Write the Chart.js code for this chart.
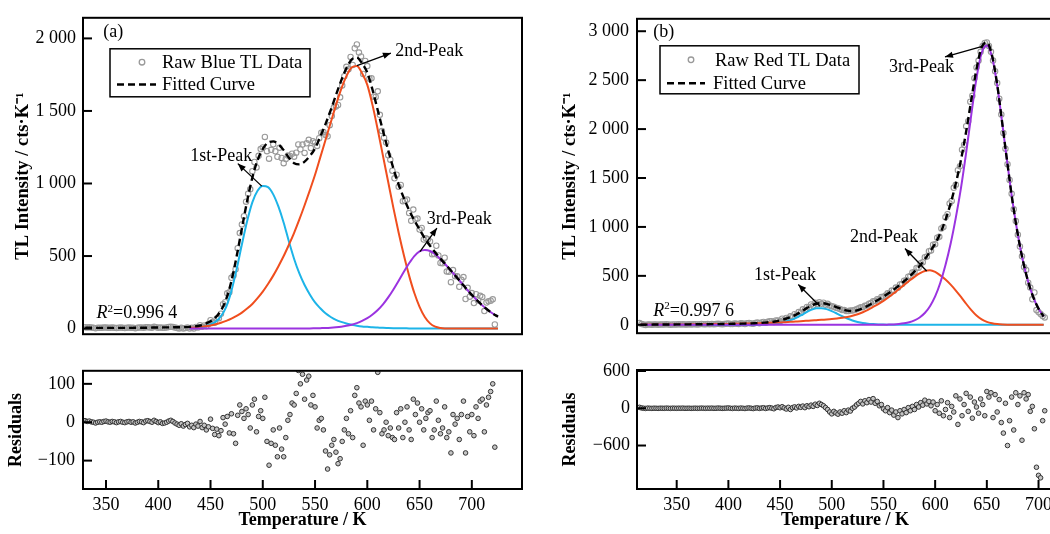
<!DOCTYPE html>
<html>
<head>
<meta charset="utf-8">
<script src="https://cdn.jsdelivr.net/npm/chart.js@4.4.1/dist/chart.umd.min.js"></script>
<style>
  html, body { margin: 0; padding: 0; background: #fff; }
  #page { position: relative; width: 1050px; height: 534px; overflow: hidden; background: #fff; }
  .cell { position: absolute; }
</style>
</head>
<body>
<div id="page">
  <div class="cell" style="left:0;top:0;width:530px;height:352px"><canvas id="mainBlue"></canvas></div>
  <div class="cell" style="left:0;top:352px;width:530px;height:182px"><canvas id="residBlueChart"></canvas></div>
  <div class="cell" style="left:530px;top:0;width:530px;height:352px"><canvas id="mainRed"></canvas></div>
  <div class="cell" style="left:530px;top:352px;width:530px;height:182px"><canvas id="residRedChart"></canvas></div>
</div>
<script>
// ---- data: panel (a), blue TL ----
// raw data and residuals sampled every 2 K from 330 K
const rawBlue = [
  10,8,9,7,6,3,5,6,5,7, 8,6,5,7,6,4,6,7,5,4, 6,7,5,6,3,6,8,7,5,9,
  10,8,6,12,9,6,8,5,6,8, 11,13,11,7,4,1,5,0,4,8, 0,5,0,11,8,23,12,22,16,31,
  58,45,40,69,71,103,168,182,243,250, 350,366,409,554,658,718,775,875,930,960,
  1085,1148,1111,1191,1237,1248,1321,1223,1171,1232, 1270,1222,1184,1247,1176,1140,1169,1193,1190,1205,
  1185,1212,1269,1236,1268,1211,1277,1301,1244,1291, 1282,1259,1312,1350,1355,1334,1325,1402,1466,1523,
  1531,1541,1594,1676,1740,1804,1788,1872,1817,1932, 1958,1902,1876,1755,1845,1809,1722,1725,1598,1596,
  1635,1473,1361,1316,1282,1194,1164,1088,1036,1061, 977,990,878,882,889,796,743,820,753,758,
  683,694,614,622,616,601,512,514,571,504, 452,450,489,393,391,320,403,361,360,288,
  336,355,204,281,220,245,176,237,194,226, 218,121,179,188,192,202,28
];
const residBlue = [
  4,2,3,1,0,-2,0,1,0,2, 3,1,0,2,1,-1,1,2,0,-1, 1,2,0,1,-2,0,2,1,-1,3,
  4,2,0,5,2,-1,1,-3,-2,0, 3,5,2,-2,-5,-8,-4,-10,-6,-3, -12,-8,-14,-5,-10,2,-14,-8,-20,-12,
  8,-16,-32,-18,-35,-22,12,-5,15,-28, 22,-30,-55,18,45,28,10,35,20,-15,
  45,60,-25,15,30,10,65,-50,-112,-55, -20,-60,-90,-15,-70,-90,-40,5,20,50,
  45,75,135,100,125,60,110,120,45,70, 40,-15,5,10,-20,-75,-122,-85,-60,-45,
  -78,-108,-95,-50,-20,10,-30,30,-40,70, 90,50,40,-60,55,45,5,55,-20,35,
  130,25,-30,-20,0,-35,-15,-40,-45,25, -15,35,-40,0,40,-20,-45,60,20,50,
  0,35,-20,10,25,30,-40,-20,55,5, -30,-15,40,-40,-25,-80,20,-5,10,-45,
  20,55,-80,15,-25,20,-35,40,10,55, 60,-25,45,65,80,100,-65
];
// fitted curve every 5 K from 330 K
const fitBlue = [
  6,6,5,5,5,5,5,5,5,5, 6,6,6,7,7,8,8,9,9,10,
  12,15,21,33,50,78,125,203,328,498, 690,878,1040,1160,1238,1282,1290,1270,1230,1178,
  1140,1132,1151,1189,1242,1323,1409,1506,1609,1709, 1794,1854,1868,1828,1764,1646,1505,1362,1229,1103,
  992,899,816,746,683,622,571,525,482,441, 400,358,316,272,232,195,160,130,104,82
];
// fitted peaks every 5 K from 430 K
const peak1Blue = [
  3,5,9,16,28,48,85,150,260,410, 580,740,870,950,983,975,925,840,730,600,
  480,380,300,235,180,140,105,80,60,46, 35,27,20,15,12,9,7,5,4,3,
  2,2,1,1,1,0,0,0,0,0, 0,0,0,0,0,0,0,0,0,0
];
const peak2Blue = [
  5,8,12,17,22,30,40,53,68,88, 110,138,170,210,255,307,365,430,500,578,
  660,752,850,953,1060,1180,1300,1420,1540,1650, 1740,1800,1810,1760,1680,1540,1370,1190,1010,830,
  660,505,365,245,150,80,36,13,4,1, 0,0,0,0,0,0,0,0,0,0
];
const peak3Blue = [
  0,0,0,0,0,0,0,0,0,0, 0,0,0,0,0,0,0,0,0,0,
  0,0,1,1,2,3,4,6,9,13, 19,27,38,53,72,97,128,167,215,270,
  330,392,450,500,532,542,535,512,478,440, 400,358,316,272,232,195,160,130,104,82
];

// ---- data: panel (b), red TL ----
// raw data and residuals sampled every 2 K from 314 K
const rawRed = [
  17,7,2,-1,4,2,0,4,3,1, 4,3,2,5,3,1,4,3,3,5, 4,6,3,4,5,3,5,6,4,5,
  8,6,5,7,6,8,6,7,10,8, 5,8,11,14,9,7,12,11,9,15, 12,8,15,18,14,10,19,23,16,24,
  29,20,30,37,36,28,45,44,38,62, 52,70,62,86,80,108,100,130,124,158,
  152,182,178,208,196,224,212,230,214,226, 206,214,196,190,184,175,168,162,150,150,
  140,140,145,146,152,160,168,178,180,194, 198,216,222,240,242,262,262,284,286,298,
  322,320,350,348,380,378,412,418,450,455, 492,498,535,540,580,584,630,640,690,698,
  752,760,818,822,890,900,985,1000,1100,1130, 1240,1265,1400,1430,1580,1620,1790,1840,2030,2080,
  2280,2340,2520,2630,2700,2790,2850,2880,2885,2850, 2790,2700,2590,2470,2310,2150,1960,1800,1640,1480,
  1340,1180,1060,920,800,700,590,560,430,380, 260,330,150,130,110,90,75
];
const residRed = [
  15,5,0,-3,2,0,-2,1,0,-2, 1,0,-1,2,0,-2,1,0,-1,1, 0,2,-1,0,1,-2,0,1,-1,0,
  2,0,-1,1,0,2,-1,0,3,1, -2,0,2,5,0,-3,2,0,-2,3, 0,-4,2,5,0,-5,3,6,-2,4,
  8,-3,5,10,2,-8,12,20,8,25, 5,-12,15,-20,10,22,5,30,15,35,
  10,40,25,50,30,65,45,80,60,40, 10,-20,-60,-90,-50,-75,-95,-60,-80,-40,
  -70,-30,-45,0,20,55,80,110,70,120, 90,140,100,155,80,110,40,60,-10,-40,
  10,-70,-30,-110,-60,-150,-40,-90,-20,-70, 10,-40,30,-20,60,20,90,50,130,70,
  110,40,100,-40,60,-80,120,-120,-20,90, -150,30,-60,200,-260,150,-120,60,240,-50,
  180,-160,100,20,-80,150,60,-120,270,180, 250,-150,220,-60,140,-230,-400,80,-600,-200,
  180,-350,250,60,200,-515,250,150,220,-50, 30,-330,-950,-1080,-1120,-200,-40
];
// fitted curve and peaks every 5 K from 315 K
const fitRed = [
  2,2,2,3,3,3,3,4,4,4, 5,5,6,6,7,7,8,9,10,11,
  12,13,16,18,22,27,34,44,59,78, 101,131,165,195,215,221,214,198,179,160,
  144,140,150,170,195,225,255,288,322,360, 400,445,492,545,600,670,747,830,935,1072,
  1240,1445,1685,1975,2300,2615,2835,2885,2755,2457, 2053,1641,1250,920,650,440,280,165,85
];
const peak1Red = [
  0,0,0,0,0,0,0,0,0,0, 0,0,0,0,0,0,0,0,0,0,
  0,0,1,2,4,7,12,20,32,48, 68,95,125,152,168,170,160,140,115,88,
  64,44,29,18,11,7,4,2,1,0, 0,0,0,0,0,0,0,0,0,0,
  0,0,0,0,0,0,0,0,0,0, 0,0,0,0,0,0,0,0,0
];
const peak2Red = [
  2,2,2,3,3,3,3,4,4,4, 5,5,6,6,7,7,8,9,10,11,
  12,13,15,16,18,20,22,24,27,30, 33,36,40,43,47,51,54,58,64,72,
  80,92,108,128,153,182,212,245,282,322, 365,408,450,490,525,550,557,540,505,462,
  410,350,285,215,150,95,55,30,15,7, 3,1,0,0,0,0,0,0,0
];
const peak3Red = [
  0,0,0,0,0,0,0,0,0,0, 0,0,0,0,0,0,0,0,0,0,
  0,0,0,0,0,0,0,0,0,0, 0,0,0,0,0,0,0,0,0,0,
  0,0,0,0,0,0,0,0,2,4, 8,15,26,45,75,120,190,290,430,610,
  830,1095,1400,1760,2150,2520,2780,2855,2740,2450, 2050,1640,1250,920,650,440,280,165,85
];

// ---- ticks ----
const tempTicks = [350, 400, 450, 500, 550, 600, 650, 700];
const tempTickLabels = ['350', '400', '450', '500', '550', '600', '650', '700'];
const blueTicks = [0, 500, 1000, 1500, 2000];
const blueTickLabels = ['0', '500', '1 000', '1 500', '2 000'];
const redTicks = [0, 500, 1000, 1500, 2000, 2500, 3000];
const redTickLabels = ['0', '500', '1 000', '1 500', '2 000', '2 500', '3 000'];
const residBlueTicks = [-100, 0, 100];
const residBlueTickLabels = ['\u2212100', '0', '100'];
const residRedTicks = [-600, 0, 600];
const residRedTickLabels = ['\u2212600', '0', '600'];

const FONT = "'Liberation Serif', 'Times New Roman', serif";
const CYAN = '#1db4e8';
const ORANGE = '#f04e1e';
const PURPLE = '#9b33e0';

Chart.defaults.font.family = FONT;
Chart.defaults.color = '#000';

function pts(start, step, vals) {
  return vals.map((v, i) => ({ x: start + i * step, y: v }));
}

// annotations (data coordinates) and legend boxes (px from plot corner)
const notesBlue = {
  texts: [
    { x: 347.4, y: 2044, text: '(a)' },
    { x: 430.6, y: 1191, text: '1st-Peak' },
    { x: 626.7, y: 1908, text: '2nd-Peak' },
    { x: 656.9, y: 752, text: '3rd-Peak' }
  ],
  arrows: [[499, 982, 476.1, 1137], [590.1, 1813, 622.6, 1899], [650.4, 531, 666.6, 693]],
  r2: { x: 341, y: 103, text: '=0.996 4' },
  legend: { dx: 27, dy: 31, w: 200, h: 48, mx: 32, tx1: 52, d1: 7, d2: 46, tx2: 52, row1: 13.4, row2: 35.7,
            label1: 'Raw Blue TL Data', label2: 'Fitted Curve' }
};
const notesRed = {
  texts: [
    { x: 327.4, y: 2990, text: '(b)' },
    { x: 555.3, y: 2636, text: '3rd-Peak' },
    { x: 517.6, y: 890, text: '2nd-Peak' },
    { x: 424.8, y: 509, text: '1st-Peak' }
  ],
  arrows: [[646.5, 2848, 609.5, 2737], [591.8, 549, 570.8, 780], [488.6, 190, 467.6, 412]],
  r2: { x: 327.4, y: 136, text: '=0.997 6' },
  legend: { dx: 23, dy: 27, w: 199, h: 48, mx: 31, tx1: 55, d1: 7, d2: 45, tx2: 53, row1: 14, row2: 37.4,
            label1: 'Raw Red TL Data', label2: 'Fitted Curve' }
};

function arrow(ctx, x1, y1, x2, y2) {
  ctx.lineWidth = 1.3;
  ctx.beginPath(); ctx.moveTo(x1, y1); ctx.lineTo(x2, y2); ctx.stroke();
  const ang = Math.atan2(y2 - y1, x2 - x1), L = 8, W = 3.2;
  const bx = x2 - L * Math.cos(ang), by = y2 - L * Math.sin(ang);
  ctx.beginPath();
  ctx.moveTo(x2, y2);
  ctx.lineTo(bx + W * Math.sin(ang), by - W * Math.cos(ang));
  ctx.lineTo(bx - W * Math.sin(ang), by + W * Math.cos(ang));
  ctx.closePath(); ctx.fill();
}

// box around the plot and inward tick marks
const framePlugin = {
  id: 'frame',
  afterDatasetsDraw(chart, args, opts) {
    const { ctx, chartArea: a, scales } = chart;
    ctx.save();
    ctx.strokeStyle = '#000';
    ctx.lineWidth = 2;
    ctx.strokeRect(a.left, a.top, a.right - a.left, a.bottom - a.top);
    scales.y.ticks.forEach(t => {
      const py = scales.y.getPixelForValue(t.value);
      ctx.beginPath(); ctx.moveTo(a.left, py); ctx.lineTo(a.left + 9, py); ctx.stroke();
    });
    if (opts.xTicks) {
      scales.x.ticks.forEach(t => {
        const px = scales.x.getPixelForValue(t.value);
        ctx.beginPath(); ctx.moveTo(px, a.bottom); ctx.lineTo(px, a.bottom - 9); ctx.stroke();
      });
    }
    ctx.restore();
  }
};

const notesPlugin = {
  id: 'notes',
  afterDraw(chart, args, o) {
    if (!o || !o.texts) return;
    const { ctx, chartArea: a, scales: { x, y } } = chart;
    ctx.save();
    ctx.fillStyle = '#000';
    ctx.strokeStyle = '#000';
    ctx.textBaseline = 'middle';
    ctx.textAlign = 'left';
    ctx.font = '18px ' + FONT;
    o.texts.forEach(t => ctx.fillText(t.text, x.getPixelForValue(t.x), y.getPixelForValue(t.y)));
    o.arrows.forEach(r => arrow(ctx, x.getPixelForValue(r[0]), y.getPixelForValue(r[1]),
                                x.getPixelForValue(r[2]), y.getPixelForValue(r[3])));
    // R^2 label
    let px = x.getPixelForValue(o.r2.x);
    const py = y.getPixelForValue(o.r2.y);
    ctx.font = 'italic 18px ' + FONT;
    ctx.fillText('R', px, py);
    px += ctx.measureText('R').width;
    ctx.font = '11px ' + FONT;
    ctx.fillText('2', px, py - 5);
    px += ctx.measureText('2').width;
    ctx.font = '18px ' + FONT;
    ctx.fillText(o.r2.text, px, py);
    // legend
    const L = o.legend;
    const lx = a.left + L.dx, ly = a.top + L.dy;
    ctx.lineWidth = 1.5;
    ctx.strokeRect(lx, ly, L.w, L.h);
    ctx.font = '18.5px ' + FONT;
    ctx.strokeStyle = '#999';
    ctx.lineWidth = 1.3;
    ctx.beginPath(); ctx.arc(lx + L.mx, ly + L.row1, 2.8, 0, Math.PI * 2); ctx.stroke();
    ctx.fillText(L.label1, lx + L.tx1, ly + L.row1 + 1);
    ctx.strokeStyle = '#000';
    ctx.lineWidth = 2.4;
    ctx.setLineDash([7, 4]);
    ctx.beginPath(); ctx.moveTo(lx + L.d1, ly + L.row2); ctx.lineTo(lx + L.d2, ly + L.row2); ctx.stroke();
    ctx.setLineDash([]);
    ctx.fillText(L.label2, lx + L.tx2, ly + L.row2 + 1);
    ctx.restore();
  }
};

function curve(data, color, width, dash, order) {
  return { data, showLine: true, borderColor: color, borderWidth: width, borderDash: dash,
           pointRadius: 0, cubicInterpolationMode: 'monotone', order };
}

function yScale(min, max, ticks, labels, width, title, titlePad, tickPad) {
  return {
    type: 'linear', min, max,
    afterBuildTicks: s => { s.ticks = ticks.map(v => ({ value: v })); },
    afterFit: s => { s.width = width; },
    grid: { display: false, drawTicks: false },
    border: { display: false },
    ticks: { font: { size: 18 }, color: '#000', padding: tickPad,
             callback: v => labels[ticks.indexOf(v)] },
    title: { display: true, text: title, color: '#000',
             font: { size: title === 'Residuals' ? 18 : 18.5, weight: 'bold' },
             padding: { top: titlePad, bottom: 0 } }
  };
}

function mainChart(id, c) {
  return new Chart(document.getElementById(id), {
    type: 'scatter',
    data: {
      datasets: [
        curve(pts(c.fitStart, 5, c.fit), '#000', 2.4, [7, 4], 0),
        curve(pts(c.peakStart, 5, c.p3), PURPLE, 2, [], 1),
        curve(pts(c.peakStart, 5, c.p2), ORANGE, 2, [], 2),
        curve(pts(c.peakStart, 5, c.p1), CYAN, 2, [], 3),
        { data: pts(c.rawStart, 2, c.raw), pointRadius: 2.7, borderWidth: 1.1,
          borderColor: '#9a9a9a', backgroundColor: 'rgba(255,255,255,0)', order: 4 }
      ]
    },
    options: {
      responsive: true, maintainAspectRatio: false, animation: false,
      layout: { padding: c.padding },
      scales: {
        x: { type: 'linear', min: c.xMin, max: c.xMax, display: false },
        y: yScale(c.yMin, c.yMax, c.ticks, c.labels, c.yWidth,
                  'TL Intensity / cts\u00b7K\u207b\u00b9', c.titlePad, c.tickPad)
      },
      plugins: { legend: { display: false }, tooltip: { enabled: false },
                 frame: { xTicks: false }, notes: c.notes }
    },
    plugins: [framePlugin, notesPlugin]
  });
}

function residChart(id, c) {
  return new Chart(document.getElementById(id), {
    type: 'scatter',
    data: {
      datasets: [
        { data: pts(c.start, 2, c.resid), pointRadius: 2.3, borderWidth: 1,
          borderColor: '#333', backgroundColor: '#c4c4c4' }
      ]
    },
    options: {
      responsive: true, maintainAspectRatio: false, animation: false,
      layout: { padding: c.padding },
      scales: {
        x: {
          type: 'linear', min: c.xMin, max: c.xMax,
          afterBuildTicks: s => { s.ticks = tempTicks.map(v => ({ value: v })); },
          afterFit: s => { s.height = 45; },
          grid: { display: false, drawTicks: false },
          border: { display: false },
          ticks: { font: { size: 18 }, color: '#000', padding: 5, maxRotation: 0, autoSkip: false,
                   callback: v => tempTickLabels[tempTicks.indexOf(v)] },
          title: { display: true, text: 'Temperature / K', color: '#000',
                   font: { size: 18, weight: 'bold' }, padding: { top: 0, bottom: 3 } }
        },
        y: yScale(c.yMin, c.yMax, c.ticks, c.labels, c.yWidth, 'Residuals', c.titlePad, c.tickPad)
      },
      plugins: { legend: { display: false }, tooltip: { enabled: false }, frame: { xTicks: true } }
    },
    plugins: [framePlugin]
  });
}

mainChart('mainBlue', {
  fit: fitBlue, fitStart: 330, p1: peak1Blue, p2: peak2Blue, p3: peak3Blue, peakStart: 430,
  raw: rawBlue, rawStart: 330, xMin: 328, xMax: 748, yMin: -38.7, yMax: 2142,
  ticks: blueTicks, labels: blueTickLabels, yWidth: 83, titlePad: 12, tickPad: 7,
  padding: { top: 7, right: 8, bottom: 7, left: 0 }, notes: notesBlue
});
residChart('residBlueChart', {
  resid: residBlue, start: 330, xMin: 328, xMax: 748, yMin: -174, yMax: 134,
  ticks: residBlueTicks, labels: residBlueTickLabels, yWidth: 83, titlePad: 6, tickPad: 8,
  padding: { top: 16, right: 8, bottom: 0, left: 0 }
});
mainChart('mainRed', {
  fit: fitRed, fitStart: 315, p1: peak1Red, p2: peak2Red, p3: peak3Red, peakStart: 315,
  raw: rawRed, rawStart: 314, xMin: 311.6, xMax: 714, yMin: -86, yMax: 3127,
  ticks: redTicks, labels: redTickLabels, yWidth: 107, titlePad: 29, tickPad: 8,
  padding: { top: 7, right: 7, bottom: 7, left: 0 }, notes: notesRed
});
residChart('residRedChart', {
  resid: residRed, start: 314, xMin: 311.6, xMax: 714, yMin: -1300, yMax: 616,
  ticks: residRedTicks, labels: residRedTickLabels, yWidth: 107, titlePad: 30, tickPad: 7,
  padding: { top: 18, right: 7, bottom: 0, left: 0 }
});
</script>
</body>
</html>
